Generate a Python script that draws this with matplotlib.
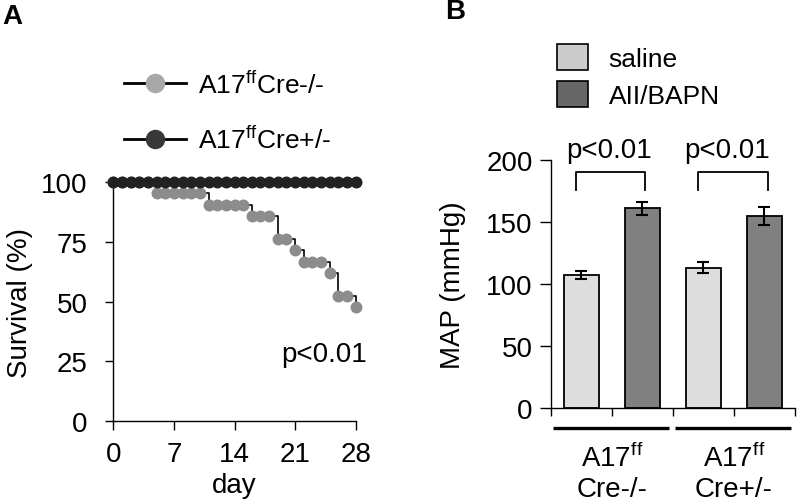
import numpy as np
import matplotlib
matplotlib.use('Agg')
from matplotlib import pyplot as plt
from matplotlib.lines import Line2D
import matplotlib.patches as mpatches

plt.rcParams['font.family'] = ['Liberation Sans', 'DejaVu Sans']
plt.rcParams['font.size'] = 19
plt.rcParams['axes.linewidth'] = 1.0

# Panel A - survival (n=21 per group)
days = list(range(29))
surv_neg = [100, 100, 100, 100, 100,
            95.2, 95.2, 95.2, 95.2, 95.2, 95.2,
            90.5, 90.5, 90.5, 90.5, 90.5,
            85.7, 85.7, 85.7,
            76.2, 76.2,
            71.4,
            66.7, 66.7, 66.7,
            61.9,
            52.4, 52.4,
            47.6]
surv_pos = [100] * 29
day_ticks = [0, 7, 14, 21, 28]
surv_ticks = [0, 25, 50, 75, 100]

# Panel B - MAP
groups = ['A17$^{\\mathregular{ff}}$', 'A17$^{\\mathregular{ff}}$']
genotypes = ['Cre-/-', 'Cre+/-']
saline_map = [107, 113]
saline_err = [3, 4.3]
aii_map = [161, 155]
aii_err = [5.3, 7.2]
map_ticks = [0, 50, 100, 150, 200]

gray_dot = '#8c8c8c'
black_dot = '#222222'
saline_col = '#dddddd'
aii_col = '#808080'

fig = plt.figure(figsize=(8, 5.02), dpi=100)

# ---------------- A ----------------
axA = fig.add_axes([113.3 / 800, (502 - 422.3) / 502, 242.4 / 800, 239.3 / 502])
axA.step(days, surv_neg, where='post', color='black', lw=1.2, zorder=2, clip_on=False)
axA.plot(days, surv_neg, 'o', color=gray_dot, ms=8.6, mew=0, zorder=3, clip_on=False)
axA.step(days, surv_pos, where='post', color='black', lw=1.2, zorder=4, clip_on=False)
axA.plot(days, surv_pos, 'o', color=black_dot, ms=8.6, mew=0, zorder=5, clip_on=False)

axA.set_xlim(0, 28)
axA.set_ylim(0, 100)
axA.set_xticks(day_ticks)
axA.set_yticks(surv_ticks)
axA.spines['top'].set_visible(False)
axA.spines['right'].set_visible(False)
axA.tick_params(axis='x', length=6.5, width=1, pad=8, labelsize=20)
axA.tick_params(axis='y', length=6, width=1, pad=12.5, labelsize=20)
axA.set_xlabel('day', fontsize=20, va='center')
axA.xaxis.set_label_coords(0.5, -(486 - 422.3) / 239.3)
axA.set_ylabel('Survival (%)', fontsize=20, va='center')
axA.yaxis.set_label_coords(-(113.3 - 20) / 242.4, 0.5)
axA.text(24.4, 25.3, 'p<0.01', fontsize=20, ha='center', va='baseline')

hA = [Line2D([], [], color='black', lw=2, marker='o', ms=13, mfc='#a8a8a8', mec='#a8a8a8'),
      Line2D([], [], color='black', lw=2, marker='o', ms=13, mfc='#383838', mec='#383838')]
legA = fig.legend(hA, ['A17$^{\\mathregular{ff}}$Cre-/-', 'A17$^{\\mathregular{ff}}$Cre+/-'],
                  loc='center left', bbox_to_anchor=(111 / 800, 1 - 112.5 / 502),
                  frameon=False, fontsize=19, handlelength=2.35, handletextpad=0.45,
                  labelspacing=1.05, borderpad=0)

# ---------------- B ----------------
axB = fig.add_axes([550.7 / 800, (502 - 409) / 502, 244.3 / 800, 248.3 / 502])
xs = np.arange(2) * 2
w = 0.57
axB.bar(xs, saline_map, w, color=saline_col, edgecolor='black', lw=1.3, zorder=2)
axB.bar(xs + 1, aii_map, w, color=aii_col, edgecolor='black', lw=1.3, zorder=2)
axB.errorbar(xs, saline_map, yerr=saline_err, fmt='none', ecolor='black',
             elinewidth=1.5, capsize=4, capthick=1.5, zorder=3)
axB.errorbar(xs + 1, aii_map, yerr=aii_err, fmt='none', ecolor='black',
             elinewidth=1.5, capsize=4, capthick=1.5, zorder=3)

axB.set_xlim(-0.5, 3.5)
axB.set_ylim(0, 200)
axB.set_yticks(map_ticks)
axB.set_xticks([-0.5, 0.5, 1.5, 2.5, 3.5])
axB.set_xticklabels([])
axB.spines['top'].set_visible(False)
axB.spines['right'].set_visible(False)
axB.tick_params(axis='x', length=6, width=1)
axB.tick_params(axis='y', length=8, width=1, pad=5, labelsize=20)
axB.set_ylabel('MAP (mmHg)', fontsize=20, va='center')
axB.yaxis.set_label_coords(-(550.7 - 453) / 244.3, 0.5)

# significance brackets
for i, x0 in enumerate(xs):
    xl, xr = x0 - 0.09, x0 + 1.05
    axB.plot([xl, xl, xr, xr], [175.5, 190.3, 190.3, 175.5], color='black', lw=1.3, clip_on=False)
    axB.text(x0 + 0.45 - 0.07 * i, 202, 'p<0.01', fontsize=20, ha='center', va='baseline')

# group underlines and labels
for x0, g, gt in zip(xs, groups, genotypes):
    axB.plot([x0 - 0.47, x0 + 1.44], [-16, -16], color='black', lw=2.4, clip_on=False,
             solid_capstyle='butt')
    axB.text(x0 + 0.5, -39.5, g, fontsize=20, ha='center', va='center')
    axB.text(x0 + 0.5, -65.5, gt, fontsize=20, ha='center', va='center')

hB = [mpatches.Patch(facecolor='#cccccc', edgecolor='black', lw=1.2),
      mpatches.Patch(facecolor='#666666', edgecolor='black', lw=1.2)]
fig.legend(hB, ['saline', 'AII/BAPN'], loc='center left',
           bbox_to_anchor=(544 / 800, 1 - 77 / 502), frameon=False, fontsize=19,
           handlelength=1.15, handleheight=1.15, handletextpad=0.8,
           labelspacing=0.4, borderpad=0)

fig.text(2 / 800, 1 - 17 / 502, 'A', fontsize=20, fontweight='bold', va='center')
fig.text(445 / 800, 1 - 12 / 502, 'B', fontsize=20, fontweight='bold', va='center')

fig.savefig('out.png', dpi=100)
